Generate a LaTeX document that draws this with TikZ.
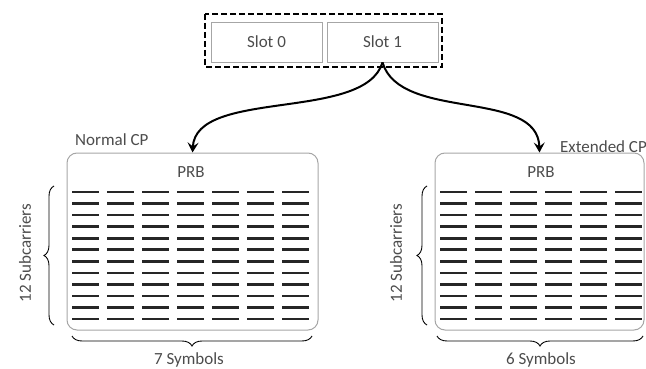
\documentclass[tikz,border=0pt]{standalone}
\usepackage{fontspec}
\setmainfont{Carlito}
\usetikzlibrary{arrows.meta,decorations.pathreplacing}

\tikzset{
  slotbox/.style={draw=black!35, line width=0.8pt, minimum width=111pt, minimum height=40pt, text=black!70},
  prbbox/.style={draw=black!35, line width=1pt, rounded corners=10pt},
  lbl/.style={text=black!70},
  conn/.style={line width=2pt, -{Stealth[length=10pt,width=11pt,inset=4pt]}},
  bar/.style={line width=2.6pt, black!85},
  brc/.style={decorate, decoration={brace, amplitude=10pt}, line width=0.9pt}
}

\begin{document}
\begin{tikzpicture}[x=1pt, y=-1pt, font=\fontsize{17}{20}\selectfont]
  \useasboundingbox (0,0) rectangle (646,369);

  \node[slotbox] (slot0) at (266.5,42) {Slot 0};
  \node[slotbox] (slot1) at (382.5,42) {Slot 1};
  \draw[line width=2.4pt, dash pattern=on 6pt off 3pt] (205,14) rectangle (442,67);

  \node[prbbox, minimum width=251pt, minimum height=177pt] (prbn) at (192.5,241.5) {};
  \node[prbbox, minimum width=209pt, minimum height=177pt] (prbe) at (539.5,241.5) {};
  \node[lbl] (prbnlbl) at (191,172) {PRB};
  \node[lbl] (prbelbl) at (541,172) {PRB};
  \node[lbl, anchor=west, inner sep=0pt] (normal) at (75,140) {Normal CP};
  \node[lbl, anchor=west, inner sep=0pt] (extended) at (560,147) {Extended CP};

  % subcarrier rows
  \foreach \i in {0,...,11} {
    \foreach \j in {0,...,6}
      \draw[bar] (72+35*\j,192+11.55*\i) -- ++(27,0);
    \foreach \j in {0,...,5}
      \draw[bar] (440+35*\j,192+11.55*\i) -- ++(27,0);
  }

  \draw[conn] (slot1.south) .. controls (365,122) and (196,88) .. (prbn.north);
  \draw[conn] (slot1.south) .. controls (400,122) and (538,88) .. (prbe.north);

  % braces
  \draw[brc] (54,325) -- (54,186);
  \draw[brc] (427,325) -- (427,186);
  \draw[brc] (312,336) -- (72,336);
  \draw[brc] (643,336) -- (437,336);
  \node[lbl, rotate=90] (subn) at (25,253) {12 Subcarriers};
  \node[lbl, rotate=90] (sube) at (396,253) {12 Subcarriers};
  \node[lbl] (symn) at (189,360) {7 Symbols};
  \node[lbl] (syme) at (541,360) {6 Symbols};
\end{tikzpicture}
\end{document}
